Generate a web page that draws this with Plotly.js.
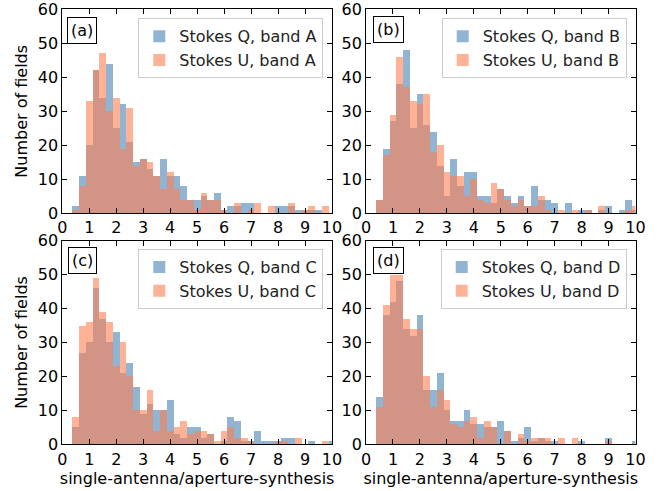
<!DOCTYPE html>
<html>
<head>
<meta charset="utf-8">
<script src="https://cdn.plot.ly/plotly-3.0.1.min.js"></script>
<style>html,body{margin:0;padding:0;background:#fff;} #chart{width:671px;height:491px;}</style>
</head>
<body>
<div id="chart"></div>
<script>
// Bin centres (bin width 0.25)
const binCenters = [0.5,0.75,1.0,1.25,1.5,1.75,2.0,2.25,2.5,2.75,3.0,3.25,3.5,3.75,4.0,4.25,4.5,4.75,5.0,5.25,5.5,5.75,6.0,6.25,6.5,6.75,7.0,7.25,7.5,7.75,8.0,8.25,8.5,8.75,9.0,9.25,9.5,9.75,10.0];

// Band A
const qBandA = [2,11,20,42,34,44,25,32,21,15,16,13,11,16,11,11,8,4,4,5,4,6,1,2,2,3,3,0,0,0,2,2,2,1,1,1,1,0,0];
const uBandA = [1,8,33,42,47,30,34,19,31,14,16,15,11,7,12,7,4,4,1,6,4,4,1,0,3,0,1,3,0,2,0,0,3,0,1,2,0,2,0];
// Band B
const qBandB = [4,19,27,38,48,25,35,26,24,14,5,16,8,12,12,5,5,3,7,5,3,5,2,8,4,4,3,0,3,0,1,1,0,1,2,0,1,4,1];
const uBandB = [4,17,29,46,37,33,32,35,18,20,12,11,11,5,10,4,3,9,7,4,2,4,2,2,5,1,0,1,0,1,0,1,0,2,0,0,0,1,2];
// Band C
const qBandC = [5,27,30,46,37,30,33,21,24,17,9,12,10,10,13,3,2,5,5,2,3,0,1,8,7,1,1,4,1,1,1,2,2,0,0,1,0,0,1];
const uBandC = [8,35,36,49,39,36,23,30,20,10,10,16,4,10,4,5,7,3,4,4,3,1,4,5,2,2,1,0,0,0,1,1,0,2,0,0,0,1,0];
// Band D
const qBandD = [14,38,42,48,34,32,38,16,16,21,10,7,7,10,6,6,5,5,7,4,1,2,5,1,2,1,1,0,0,0,1,0,0,0,2,0,0,0,1];
const uBandD = [11,41,50,50,37,34,34,20,11,16,13,6,5,7,8,2,7,5,0,4,0,3,1,2,2,2,0,2,0,2,0,0,0,0,1,0,0,0,0];

const xTicks = [0,1,2,3,4,5,6,7,8,9,10];
const yTicks = [0,10,20,30,40,50,60];
const panelLabels = ['(a)','(b)','(c)','(d)'];
const bandNames = ['A','B','C','D'];

const blue = 'rgba(70,130,180,0.6)';
const orange = 'rgba(255,127,80,0.6)';

const qSeries = [qBandA,qBandB,qBandC,qBandD];
const uSeries = [uBandA,uBandB,uBandC,uBandD];

const traces = [];
for (let i = 0; i < 4; i++) {
  const sfx = i === 0 ? '' : String(i+1);
  const leg = 'legend' + sfx;
  traces.push({
    type:'bar', x:binCenters, y:qSeries[i], width:0.25,
    xaxis:'x'+sfx, yaxis:'y'+sfx, legend:leg,
    name:'Stokes Q, band ' + bandNames[i],
    marker:{color:blue, line:{width:0}}
  });
  traces.push({
    type:'bar', x:binCenters, y:uSeries[i], width:0.25,
    xaxis:'x'+sfx, yaxis:'y'+sfx, legend:leg,
    name:'Stokes U, band ' + bandNames[i],
    marker:{color:orange, line:{width:0}}
  });
}

const font = {family:'DejaVu Sans', size:16, color:'#000'};
function xax(domain, anchor, title) {
  const a = {domain:domain, anchor:anchor, range:[0,10], tickvals:xTicks, ticktext:xTicks.map(String),
    showline:true, linecolor:'#000', linewidth:1, mirror:'ticks', ticks:'inside', ticklen:5, tickcolor:'#000',
    showgrid:false, zeroline:false, tickfont:font, automargin:false, fixedrange:true, ticklabeloverflow:'allow'};
  if (title) a.title = {text:title, font:font, standoff:0};
  return a;
}
function yax(domain, anchor, title) {
  const a = {domain:domain, anchor:anchor, range:[0,60], tickvals:yTicks, ticktext:yTicks.map(String),
    showline:true, linecolor:'#000', linewidth:1, mirror:'ticks', ticks:'inside', ticklen:5, tickcolor:'#000',
    showgrid:false, zeroline:false, tickfont:font, automargin:false, fixedrange:true, ticklabeloverflow:'allow'};
  if (title) a.title = {text:title, font:font, standoff:6};
  return a;
}
function legendAt(x, y) {
  return {x:x, y:y, xanchor:'right', yanchor:'top', xref:'paper', yref:'paper',
    bgcolor:'rgba(255,255,255,0.8)', bordercolor:'#cccccc', borderwidth:1,
    font:{family:'DejaVu Sans', size:16, color:'#222'}, tracegroupgap:0};
}

const xdL = [0.0928,0.4948], xdR = [0.5455,0.9471];
const ydT = [0.5656,0.9811], ydB = [0.0951,0.5098];

const labelPos = [[0.1003,0.966],[0.5554,0.9674],[0.1018,0.4976],[0.5563,0.4963]];
const annotations = panelLabels.map((t,i)=>({
  text:t, x:labelPos[i][0], y:labelPos[i][1], xref:'paper', yref:'paper',
  xanchor:'left', yanchor:'top', showarrow:false, font:font,
  bordercolor:'#000', borderwidth:1, borderpad:3, bgcolor:'#fff'
}));

const layout = {
  width:671, height:491, margin:{l:0,r:0,t:0,b:0},
  paper_bgcolor:'#fff', plot_bgcolor:'#fff',
  barmode:'overlay', bargap:0, font:font, showlegend:true,
  xaxis: xax(xdL,'y'), yaxis: yax(ydT,'x','Number of fields'),
  xaxis2: xax(xdR,'y2'), yaxis2: yax(ydT,'x2'),
  xaxis3: xax(xdL,'y3','single-antenna/aperture-synthesis'), yaxis3: yax(ydB,'x3','Number of fields'),
  xaxis4: xax(xdR,'y4','single-antenna/aperture-synthesis'), yaxis4: yax(ydB,'x4'),
  legend: legendAt(0.4818,0.9627),
  legend2: legendAt(0.934,0.9627),
  legend3: legendAt(0.4818,0.4929),
  legend4: legendAt(0.934,0.4929),
  annotations: annotations
};

Plotly.newPlot('chart', traces, layout, {displayModeBar:false, staticPlot:true});
</script>
</body>
</html>
